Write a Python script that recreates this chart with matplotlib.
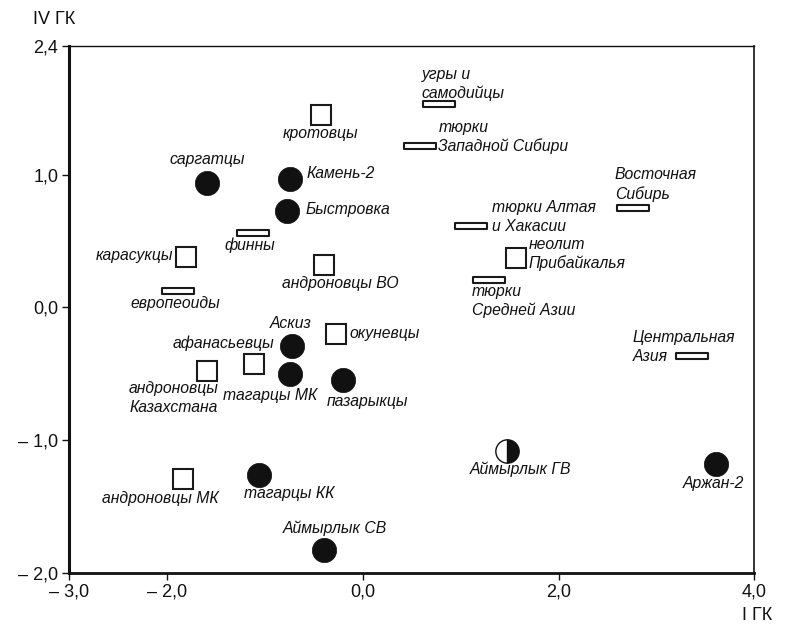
import matplotlib
matplotlib.use('Agg')
import matplotlib.pyplot as plt
from matplotlib.path import Path

plt.rcParams['font.family'] = ['Liberation Sans', 'DejaVu Sans']

# burials (filled circles)
burial_names = ['саргатцы', 'Камень-2', 'Быстровка', 'Аскиз', 'тагарцы МК',
                'пазарыкцы', 'тагарцы КК', 'Аймырлык СВ', 'Аржан-2']
burial_x = [-1.59, -0.75, -0.78, -0.72, -0.75, -0.20, -1.06, -0.40, 3.61]
burial_y = [0.94, 0.97, 0.73, -0.29, -0.50, -0.55, -1.26, -1.83, -1.18]

# archaeological groups (open squares)
group_names = ['кротовцы', 'карасукцы', 'андроновцы ВО', 'окуневцы',
               'афанасьевцы', 'андроновцы\nКазахстана', 'андроновцы МК',
               'неолит\nПрибайкалья']
group_x = [-0.43, -1.81, -0.40, -0.27, -1.11, -1.59, -1.84, 1.56]
group_y = [1.45, 0.38, 0.32, -0.20, -0.43, -0.48, -1.29, 0.37]

# modern populations (open bars)
modern_names = ['угры и\nсамодийцы', 'тюрки\nЗападной Сибири', 'финны',
                'европеоиды', 'тюрки Алтая\nи Хакасии', 'тюрки\nСредней Азии',
                'Восточная\nСибирь', 'Центральная\nАзия']
modern_x = [0.78, 0.58, -1.12, -1.89, 1.10, 1.29, 2.76, 3.36]
modern_y = [1.53, 1.22, 0.56, 0.12, 0.61, 0.21, 0.75, -0.37]

# mixed sample (half-filled circle)
mixed_names = ['Аймырлык ГВ']
mixed_x = [1.47]
mixed_y = [-1.08]

x_ticks = [-3, -2, 0, 2, 4]
x_ticklabels = ['\u2013 3,0', '\u2013 2,0', '0,0', '2,0', '4,0']
y_ticks = [-2, -1, 0, 1, 1.973]
y_ticklabels = ['\u2013 2,0', '\u2013 1,0', '0,0', '1,0', '2,4']

# label placement: offset in pixels from the marker, horizontal alignment
label_layout = {
    'саргатцы': (0, 23, 'center'),
    'Камень-2': (16.6, 5.7, 'left'),
    'Быстровка': (19, 1, 'left'),
    'Аскиз': (-1.3, 22.4, 'center'),
    'тагарцы МК': (-19.7, -22, 'center'),
    'пазарыкцы': (24.5, -21, 'center'),
    'тагарцы КК': (30, -19.3, 'center'),
    'Аймырлык СВ': (11.5, 21.7, 'center'),
    'Аржан-2': (-2.3, -19.3, 'center'),
    'кротовцы': (0, -18, 'center'),
    'карасукцы': (-12.7, 1, 'right'),
    'андроновцы ВО': (17, -18.3, 'center'),
    'окуневцы': (12.7, 0.7, 'left'),
    'афанасьевцы': (-30.5, 20.7, 'center'),
    'андроновцы\nКазахстана': (-34, -26.8, 'center'),
    'андроновцы МК': (-22.7, -19.6, 'center'),
    'неолит\nПрибайкалья': (12.7, 4.3, 'left'),
    'угры и\nсамодийцы': (-17.3, 20.7, 'left'),
    'тюрки\nЗападной Сибири': (18.6, 8.5, 'left'),
    'финны': (-3.7, -12.3, 'center'),
    'европеоиды': (-2.3, -11.7, 'center'),
    'тюрки Алтая\nи Хакасии': (21.3, 9.3, 'left'),
    'тюрки\nСредней Азии': (-17.3, -21.2, 'left'),
    'Восточная\nСибирь': (-18, 23.6, 'left'),
    'Центральная\nАзия': (-59.4, 9.2, 'left'),
    'Аймырлык ГВ': (13.5, -19, 'center'),
}

bar_marker = Path([(-1, -0.18), (1, -0.18), (1, 0.18), (-1, 0.18), (-1, -0.18)],
                  [Path.MOVETO, Path.LINETO, Path.LINETO, Path.LINETO, Path.CLOSEPOLY])

fig = plt.figure(figsize=(7.87, 6.24), dpi=100)
ax = fig.add_axes([0.0881, 0.0822, 0.8704, 0.8446])

ax.plot(modern_x, modern_y, linestyle='none', marker=bar_marker, markersize=23.5,
        markerfacecolor='white', markeredgecolor='#1a1a1a', markeredgewidth=1.5, zorder=3)
ax.plot(group_x, group_y, linestyle='none', marker='s', markersize=13.8,
        markerfacecolor='white', markeredgecolor='#1a1a1a', markeredgewidth=1.5, zorder=3)
ax.plot(burial_x, burial_y, linestyle='none', marker='o', markersize=17.5,
        markerfacecolor='#111111', markeredgecolor='#111111', markeredgewidth=0.5, zorder=3)
ax.plot(mixed_x, mixed_y, linestyle='none', marker='o', markersize=16.8,
        fillstyle='right', markerfacecolor='#111111', markerfacecoloralt='white',
        markeredgecolor='#111111', markeredgewidth=1.0, zorder=3)

for names, xs, ys in [(burial_names, burial_x, burial_y),
                      (group_names, group_x, group_y),
                      (modern_names, modern_x, modern_y),
                      (mixed_names, mixed_x, mixed_y)]:
    for name, x, y in zip(names, xs, ys):
        dx, dy, ha = label_layout[name]
        ax.annotate(name, (x, y), xytext=(dx, dy), textcoords='offset pixels',
                    ha=ha, va='center', multialignment=ha,
                    fontsize=11.3, style='italic', color='#111111', linespacing=1.3)

ax.set_xlim(-3, 4)
ax.set_ylim(-2, 1.973)
ax.set_xticks(x_ticks)
ax.set_xticklabels(x_ticklabels)
ax.set_yticks(y_ticks)
ax.set_yticklabels(y_ticklabels)
ax.tick_params(axis='both', direction='out', length=5, width=1.0, labelsize=13,
               pad=3, colors='#111111')

ax.spines['left'].set_linewidth(2.2)
ax.spines['bottom'].set_linewidth(2.0)
ax.spines['top'].set_linewidth(1.0)
ax.spines['right'].set_linewidth(1.2)
for sp in ax.spines.values():
    sp.set_color('#111111')

fig.text(33 / 787, 1 - 19 / 624, 'IV ГК', fontsize=13, ha='left', va='center', color='#111111')
fig.text(772 / 787, 1 - 615.7 / 624, 'I ГК', fontsize=13, ha='right', va='center', color='#111111')

fig.savefig('out.png', dpi=100)
